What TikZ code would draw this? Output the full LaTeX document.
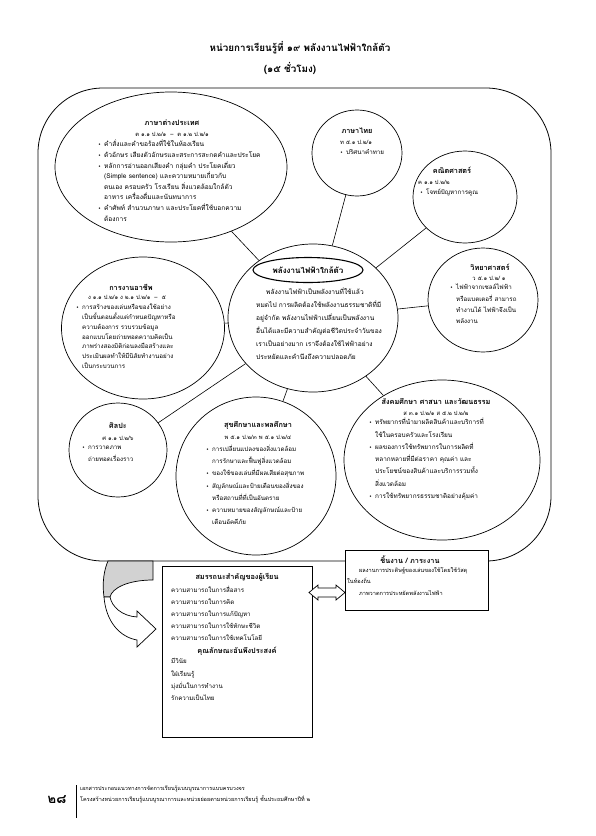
\documentclass[tikz,border=0pt]{standalone}
\usepackage{fontspec}
\setmainfont[Script=Thai]{Loma}
\newfontfamily\dv{DejaVu Sans}
\usetikzlibrary{shapes.geometric}
\newcommand{\bl}{\makebox[6pt][l]{\dv\fontsize{5}{5}\selectfont •}}
\newcommand{\ci}{\hspace*{6pt}}
\tikzset{
 ell/.style={draw, ellipse, line width=0.7pt, inner sep=0pt},
 lbl/.style={font=\bfseries\fontsize{7.3}{8}\selectfont, inner sep=0pt},
 std/.style={font=\fontsize{5.8}{7}\selectfont, inner sep=0pt},
 bodytxt/.style={font=\fontsize{6.2}{#1}\selectfont, align=left, inner sep=0pt, anchor=north west},
 conn/.style={line width=0.6pt},
 boxframe/.style={draw, line width=0.7pt, fill=white, anchor=north west, inner sep=0pt},
}
\begin{document}
\begin{tikzpicture}[x=1pt,y=-1pt]
\useasboundingbox (0,0) rectangle (595,836);
\fill[white] (0,0) rectangle (595,836);

% title
\node[font=\bfseries\fontsize{9.8}{11}\selectfont, inner sep=0pt] (title) at (300,48) {หน่วยการเรียนรู้ที่ ๑๙ พลังงานไฟฟ้าใกล้ตัว};
\node[font=\bfseries\fontsize{9.8}{11}\selectfont, inner sep=0pt] (hours) at (290,68) {(๑๕ ชั่วโมง)};

% big frame
\draw[line width=0.8pt, rounded corners=65pt] (38,88) rectangle (551,561);

% ellipses
\node[ell, minimum width=232pt, minimum height=150pt] (fl) at (171,167) {};
\node[ell, minimum width=90pt, minimum height=86pt] (th) at (357,153) {};
\node[ell, minimum width=104pt, minimum height=92pt] (ma) at (465,197) {};
\node[ell, minimum width=163pt, minimum height=142pt] (ca) at (143,328) {};
\node[ell, minimum width=170pt, minimum height=148pt] (ce) at (313,318) {};
\node[ell, minimum width=110pt, minimum height=104pt] (sc) at (483,300) {};
\node[ell, minimum width=98pt, minimum height=94pt] (ar) at (118,450) {};
\node[ell, minimum width=160pt, minimum height=158pt] (he) at (256,476) {};
\node[ell, minimum width=196pt, minimum height=160pt] (so) at (442,460) {};

% connectors
\foreach \n in {fl,th,ma,ca,sc,ar,he,so} \draw[conn] (ce) -- (\n);

% centre title oval
\node[ell, line width=1.1pt, fill=white, minimum width=110pt, minimum height=25pt, font=\bfseries\fontsize{8}{9}\selectfont] (cet) at (308,270) {พลังงานไฟฟ้าใกล้ตัว};

% foreign language
\node[lbl] (flt) at (172,123) {ภาษาต่างประเทศ};
\node[std] (fls) at (172,134) {ต ๑.๑ ป.๒/๑ \ – \ ต ๑.๒ ป.๒/๑};
\node[bodytxt=10.6, font=\fontsize{6.6}{10.6}\selectfont] (flb) at (98,140) {\bl คำสั่งและคำขอร้องที่ใช้ในห้องเรียน\\
\bl ตัวอักษร เสียงตัวอักษรและสระการสะกดคำและประโยค\\
\bl หลักการอ่านออกเสียงคำ กลุ่มคำ ประโยคเดี่ยว\\
\ci (Simple sentence) และความหมายเกี่ยวกับ\\
\ci ตนเอง ครอบครัว โรงเรียน สิ่งแวดล้อมใกล้ตัว\\
\ci อาหาร เครื่องดื่มและนันทนาการ\\
\bl คำศัพท์ สำนวนภาษา และประโยคที่ใช้บอกความ\\
\ci ต้องการ};

% Thai
\node[lbl] (tht) at (357,131) {ภาษาไทย};
\node[std] (ths) at (356,142) {ท ๕.๑ ป.๒/๑};
\node[bodytxt=10] (thb) at (340,149) {\bl ปริศนาคำทาย};

% Math
\node[lbl] (mat) at (452,170) {คณิตศาสตร์};
\node[std, anchor=west] (mas) at (418,182) {ค ๑.๑ ป.๒/๒};
\node[bodytxt=10] (mab) at (420,189) {\bl โจทย์ปัญหาการคูณ};

% Career
\node[lbl] (cat) at (131,287) {การงานอาชีพ};
\node[std] (cas) at (127,297) {ง ๑.๑ ป.๒/๑ ง ๒.๑ ป.๒/๑ \ – \ ๕};
\node[bodytxt=9.8] (cab) at (76,304) {\bl การสร้างของเล่นหรือของใช้อย่าง\\
\ci เป็นขั้นตอนตั้งแต่กำหนดปัญหาหรือ\\
\ci ความต้องการ รวบรวมข้อมูล\\
\ci ออกแบบโดยถ่ายทอดความคิดเป็น\\
\ci ภาพร่างสองมิติก่อนลงมือสร้างและ\\
\ci ประเมินผลทำให้มีนิสัยทำงานอย่าง\\
\ci เป็นกระบวนการ};

% Centre text
\node[bodytxt=13, font=\fontsize{6.6}{13}\selectfont] (ceb) at (256,288) {\hspace*{10pt}พลังงานไฟฟ้าเป็นพลังงานที่ใช้แล้ว\\
หมดไป การผลิตต้องใช้พลังงานธรรมชาติที่มี\\
อยู่จำกัด พลังงานไฟฟ้าเปลี่ยนเป็นพลังงาน\\
อื่นได้และมีความสำคัญต่อชีวิตประจำวันของ\\
เราเป็นอย่างมาก เราจึงต้องใช้ไฟฟ้าอย่าง\\
ประหยัดและคำนึงถึงความปลอดภัย};

% Science
\node[lbl] (sct) at (490,267) {วิทยาศาสตร์};
\node[std] (scs) at (489,278) {ว ๕.๑ ป.๒/ ๑};
\node[bodytxt=11.3] (scb) at (450,284) {\bl ไฟฟ้าจากเซลล์ไฟฟ้า\\
\ci หรือแบตเตอรี่ สามารถ\\
\ci ทำงานได้ ไฟฟ้าจึงเป็น\\
\ci พลังงาน};

% Art
\node[lbl] (art) at (118,426) {ศิลปะ};
\node[std] (ars) at (118,438) {ศ ๑.๑ ป.๒/๖};
\node[bodytxt=11.5] (arb) at (82,446) {\bl การวาดภาพ\\
\ci ถ่ายทอดเรื่องราว};

% Health
\node[lbl] (het) at (258,425) {สุขศึกษาและพลศึกษา};
\node[std] (hes) at (258,437) {พ ๕.๑ ป.๒/๓ พ ๕.๑ ป.๒/๔};
\node[bodytxt=12.2] (heb) at (206,445) {\bl การเปลี่ยนแปลงของสิ่งแวดล้อม\\
\ci การรักษาและฟื้นฟูสิ่งแวดล้อม\\
\bl ของใช้ของเล่นที่มีผลเสียต่อสุขภาพ\\
\bl สัญลักษณ์และป้ายเตือนของสิ่งของ\\
\ci หรือสถานที่ที่เป็นอันตราย\\
\bl ความหมายของสัญลักษณ์และป้าย\\
\ci เตือนอัคคีภัย};

% Social
\node[lbl] (sot) at (436,402) {สังคมศึกษา ศาสนา และวัฒนธรรม};
\node[std] (sos) at (436,413) {ส ๓.๑ ป.๒/๑ ส ๕.๒ ป.๒/๒};
\node[bodytxt=12.3, font=\fontsize{6.4}{12.3}\selectfont] (sob) at (369,418) {\bl ทรัพยากรที่นำมาผลิตสินค้าและบริการที่\\
\ci ใช้ในครอบครัวและโรงเรียน\\
\bl ผลของการใช้ทรัพยากรในการผลิตที่\\
\ci หลากหลายที่มีต่อราคา คุณค่า และ\\
\ci ประโยชน์ของสินค้าและบริการรวมทั้ง\\
\ci สิ่งแวดล้อม\\
\bl การใช้ทรัพยากรธรรมชาติอย่างคุ้มค่า};

% work box
\node[boxframe, minimum width=143pt, minimum height=60pt] (wk) at (345,550) {};
\node[lbl] (wkt) at (410,560) {ชิ้นงาน / ภาระงาน};
\node[bodytxt=11, font=\fontsize{5.6}{11}\selectfont] (wkb) at (347,567) {\hspace*{12pt}ผลงานการประดิษฐ์ของเล่นของใช้โดยใช้วัสดุ\\
ในท้องถิ่น\\[1.5pt]
\hspace*{12pt}ภาพวาดการประหยัดพลังงานไฟฟ้า};

% competency box
\node[boxframe, minimum width=150pt, minimum height=171pt] (cp) at (162,566) {};
\node[lbl] (cpt) at (237,577) {สมรรถนะสำคัญของผู้เรียน};
\node[bodytxt=12.2] (cpb) at (171,585.5) {ความสามารถในการสื่อสาร\\
ความสามารถในการคิด\\
ความสามารถในการแก้ปัญหา\\
ความสามารถในการใช้ทักษะชีวิต\\
ความสามารถในการใช้เทคโนโลยี};
\node[lbl] (cpt2) at (237,651) {คุณลักษณะอันพึงประสงค์};
\node[bodytxt=12.2] (cpb2) at (171,658.5) {มีวินัย\\
ใฝ่เรียนรู้\\
มุ่งมั่นในการทำงาน\\
รักความเป็นไทย};

% double arrow
\draw[fill=white, line width=0.7pt] (309,592.5) -- (318,585) -- (318,588) -- (336,588) -- (336,585) -- (345,592.5) -- (336,600) -- (336,597) -- (318,597) -- (318,600) -- cycle;

% curved arrow (back part, shaded)
\draw[fill=gray!35, line width=0.7pt] (108,561) -- (153,561) -- (153,580) .. controls (128,580) and (112,588) .. (110,597) -- (104,597) .. controls (102,583) and (104,570) .. (108,561) -- cycle;
% curved arrow (front part with head)
\draw[fill=white, line width=0.7pt] (104,597) .. controls (106,622) and (120,637) .. (137,640) -- (137,647) -- (156,629) -- (137,611) -- (137,617) .. controls (122,616) and (112,607) .. (110,597) -- cycle;

% footer
\node[font=\bfseries\fontsize{13}{14}\selectfont, inner sep=0pt] (pg) at (57,800) {๒๘};
\draw[line width=0.5pt] (76,785) -- (76,818);
\node[bodytxt=11, font=\fontsize{5.5}{11}\selectfont] (ft) at (80,786) {เอกสารประกอบแนวทางการจัดการเรียนรู้แบบบูรณาการแบบครบวงจร\\
โครงสร้างหน่วยการเรียนรู้แบบบูรณาการและหน่วยย่อยตามหน่วยการเรียนรู้ ชั้นประถมศึกษาปีที่ ๒};
\end{tikzpicture}
\end{document}
